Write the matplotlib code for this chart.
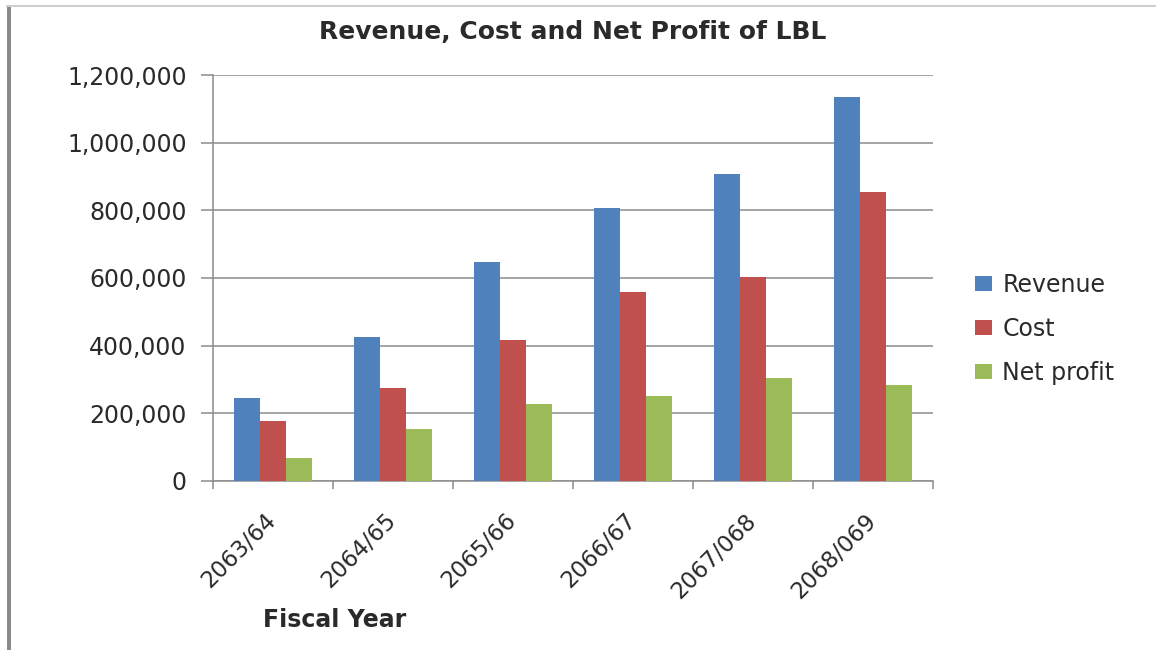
import matplotlib
matplotlib.use("Agg")
import matplotlib.pyplot as plt
import numpy as np
from matplotlib.patches import Rectangle
from matplotlib.lines import Line2D

years = ["2063/64", "2064/65", "2065/66", "2066/67", "2067/068", "2068/069"]
revenue = [245000, 427000, 648000, 808000, 906000, 1136000]
cost = [177000, 276000, 417000, 558000, 602000, 853000]
net_profit = [69000, 153000, 227000, 251000, 305000, 284000]
series_names = ["Revenue", "Cost", "Net profit"]
colors = ["#4F81BD", "#C0504D", "#9BBB59"]
yticks = [0, 200000, 400000, 600000, 800000, 1000000, 1200000]

plt.rcParams['font.family'] = ['DejaVu Sans']

fig = plt.figure(figsize=(11.56, 6.5), dpi=100)
fig.patch.set_facecolor("white")
ax = fig.add_axes([213/1156, 1-481/650, 720/1156, 406/650])

x = np.arange(len(years))
w = 0.215
for i, (vals, name, c) in enumerate(zip([revenue, cost, net_profit], series_names, colors)):
    ax.bar(x + (i - 1) * w, vals, width=w, color=c, label=name, zorder=3, linewidth=0)

ax.set_xlim(-0.5, len(years) - 0.5)
ax.set_ylim(0, 1200000)
ax.set_yticks(yticks)
ax.set_yticklabels([f"{v:,}" for v in yticks], fontsize=17, color="#2a2a2a")
ax.yaxis.grid(True, color="#8c8c8c", linewidth=1.1, zorder=0)
ax.tick_params(axis='y', length=9, color="#8c8c8c", width=1.1, pad=10)

ax.set_xticks(x)
ax.set_xticklabels(years, fontsize=16.5, color="#2a2a2a", rotation=45,
                   ha='right', va='center', rotation_mode='anchor')
ax.tick_params(axis='x', length=0, pad=26)
ax.set_xticks(np.arange(len(years) + 1) - 0.5, minor=True)
ax.tick_params(axis='x', which='minor', length=6, color="#8c8c8c", width=1.1)

for s in ["top", "right"]:
    ax.spines[s].set_visible(False)
for s in ["left", "bottom"]:
    ax.spines[s].set_color("#8c8c8c")
    ax.spines[s].set_linewidth(1.1)

fig.text(573/1156, 1-32/650, "Revenue, Cost and Net Profit of LBL", ha='center', va='center',
         fontsize=18, fontweight='bold', color="#2a2a2a")
fig.text(335/1156, 1-620/650, "Fiscal Year", ha='center', va='center',
         fontsize=17, fontweight='bold', color="#2a2a2a")

fig.legend(loc='center left', bbox_to_anchor=(975/1156, 1-329/650), frameon=False,
           fontsize=17, handlelength=0.7, handleheight=0.6, handletextpad=0.45,
           labelspacing=0.85, borderpad=0, borderaxespad=0, labelcolor="#2a2a2a")

# screenshot frame
fig.add_artist(Rectangle((7/1156, 0), 4/1156, 1-6/650, transform=fig.transFigure,
                         facecolor="#8a8a8a", edgecolor='none'))
fig.add_artist(Line2D([7/1156, 1], [1-6/650, 1-6/650], transform=fig.transFigure,
                      color="#cfcfcf", linewidth=1.5))

fig.savefig("out.png", dpi=100, facecolor="white")
